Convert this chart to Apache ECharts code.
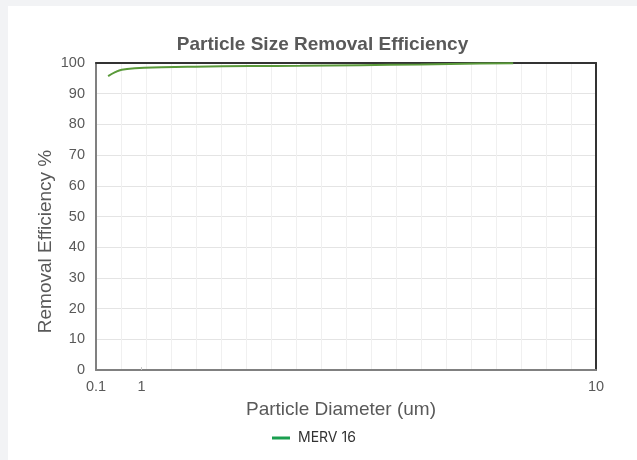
<!DOCTYPE html>
<html>
<head>
<meta charset="utf-8">
<script src="https://cdn.jsdelivr.net/npm/echarts@6/dist/echarts.min.js"></script>
<style>
html,body{margin:0;padding:0;background:#f2f3f5;width:637px;height:460px;overflow:hidden;}
#chart{position:absolute;left:8px;top:6px;width:629px;height:454px;background:#fff;}
</style>
</head>
<body>
<div id="chart"></div>
<script>
var seriesName = 'MERV 16';
var diameters = [0.34, 0.48, 0.61, 0.87, 1.40, 2.06, 3.15, 4.14, 5.33, 6.52, 7.70, 8.36];
var efficiency = [95.7, 97.0, 97.8, 98.3, 98.6, 98.8, 99.0, 99.1, 99.3, 99.5, 99.8, 99.9];
var xTickLabels = [0.1, 1, 10];
var xTickMarks = [1];

var chart = echarts.init(document.getElementById('chart'));
var pts = diameters.map(function (d, i) { return [d, efficiency[i]]; });
chart.setOption({
  animation: false,
  title: {
    text: 'Particle Size Removal Efficiency',
    left: 'center', top: 29, padding: 0,
    textStyle: { fontFamily: 'Liberation Sans, Arial', fontSize: 19, fontWeight: 'bold', color: '#595959' }
  },
  legend: {
    left: 264, top: 425, padding: 0,
    icon: 'rect', itemWidth: 18, itemHeight: 3, itemGap: 8,
    data: [{ name: seriesName, itemStyle: { color: '#1a9f4f' } }],
    textStyle: { fontFamily: 'Inter, Noto Sans', fontSize: 14, color: '#333', padding: [0, 0, 0, 3] }
  },
  grid: { left: 88, right: 41, top: 57, bottom: 90 },
  xAxis: [{
    type: 'value', min: 0.1, max: 10,
    name: 'Particle Diameter (um)', nameLocation: 'middle', nameGap: 30,
    nameTextStyle: { fontFamily: 'Liberation Sans, Arial', fontSize: 19, color: '#595959', padding: [0, 10, 0, 0] },
    axisLine: { show: true, onZero: false, lineStyle: { color: '#808080', width: 2 } },
    axisTick: { show: true, customValues: xTickMarks, length: 3, inside: true, lineStyle: { color: '#c8c8c8' } },
    axisLabel: { customValues: xTickLabels, margin: 9, fontFamily: 'Liberation Sans, Arial', fontSize: 14.5, color: '#595959' },
    splitLine: { show: false }
  }, {
    type: 'value', min: 0, max: 20, interval: 1, position: 'top',
    axisLine: { show: true, onZero: false, lineStyle: { color: '#333', width: 2 } },
    axisTick: { show: false }, axisLabel: { show: false },
    splitLine: { show: true, lineStyle: { color: '#f0f0f0', width: 1 } }
  }],
  yAxis: [{
    type: 'value', min: 0, max: 100, interval: 10,
    name: 'Removal Efficiency %', nameLocation: 'middle', nameGap: 41, nameMoveOverlap: false,
    nameTextStyle: { fontFamily: 'Liberation Sans, Arial', fontSize: 19, color: '#595959', padding: [0, 50, 0, 0] },
    axisLine: { show: true, onZero: false, lineStyle: { color: '#808080', width: 2 } },
    axisTick: { show: false },
    axisLabel: { margin: 11, fontFamily: 'Liberation Sans, Arial', fontSize: 14.5, color: '#595959' },
    splitLine: { show: true, lineStyle: { color: '#e4e4e4', width: 1 } }
  }, {
    type: 'value', min: 0, max: 100, interval: 10, position: 'right',
    axisLine: { show: true, onZero: false, lineStyle: { color: '#333', width: 2 } },
    axisTick: { show: false }, axisLabel: { show: false }, splitLine: { show: false }
  }],
  series: [{
    name: seriesName, type: 'line', xAxisIndex: 0, yAxisIndex: 0,
    data: pts, smooth: true, showSymbol: false,
    lineStyle: { color: '#5a9a3a', width: 2 }, itemStyle: { color: '#5a9a3a' }, z: 3
  }]
});
</script>
</body>
</html>
